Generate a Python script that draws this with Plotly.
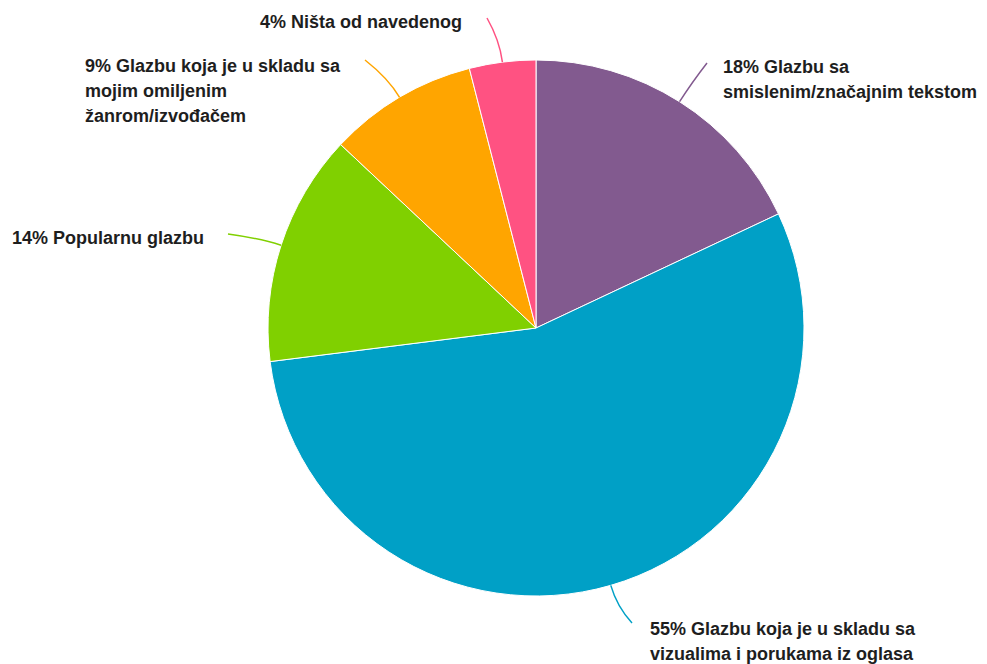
import math
import plotly.graph_objects as go

categories = [
    "Glazbu sa smislenim/značajnim tekstom",
    "Glazbu koja je u skladu sa vizualima i porukama iz oglasa",
    "Popularnu glazbu",
    "Glazbu koja je u skladu sa mojim omiljenim žanrom/izvođačem",
    "Ništa od navedenog",
]
values = [18, 55, 14, 9, 4]
label_lines = [
    ["18% Glazbu sa", "smislenim/značajnim tekstom"],
    ["55% Glazbu koja je u skladu sa", "vizualima i porukama iz oglasa"],
    ["14% Popularnu glazbu"],
    ["9% Glazbu koja je u skladu sa", "mojim omiljenim", "žanrom/izvođačem"],
    ["4% Ništa od navedenog"],
]
colors = ["#825A8F", "#00A0C6", "#80D000", "#FFA500", "#FF5282"]

W, H = 987, 664
OFF = 8  # page body margin offset
CX, CY, R = 536, 328, 268

# label layout (screen pixels): text left x, first-line center y, connector end point
label_pos = [
    (723, 67, (707, 63)),
    (650, 629, (632, 623)),
    (12, 238, (228, 234)),
    (85, 66, (365, 60)),
    (260, 22, (487, 18)),
]
LINE_H = 25

def px(x, y):
    return (x - OFF) / W, 1 - (y - OFF) / H

d0 = px(CX - R, CY + R)
d1 = px(CX + R, CY - R)
fig = go.Figure(go.Pie(
    labels=categories, values=values, sort=False, direction="clockwise",
    rotation=0, textinfo="none", hoverinfo="label+percent",
    marker=dict(colors=colors, line=dict(color="white", width=1)),
    domain=dict(x=[d0[0], d1[0]], y=[d0[1], d1[1]]),
    showlegend=False,
))

total = sum(values)
cum = 0
shapes = []
annotations = []
for v, lines, col, (lx, ly, end) in zip(values, label_lines, colors, label_pos):
    mid = (cum + v / 2) / total * 2 * math.pi
    cum += v
    sx, sy = CX + R * math.sin(mid), CY - R * math.cos(mid)
    cx, cy = CX + (R + 22) * math.sin(mid), CY - (R + 22) * math.cos(mid)
    ex, ey = end
    p0, p1, p2 = px(sx, sy), px(cx, cy), px(ex, ey)
    shapes.append(dict(
        type="path", xref="paper", yref="paper",
        path=f"M {p0[0]},{p0[1]} Q {p1[0]},{p1[1]} {p2[0]},{p2[1]}",
        line=dict(color=col, width=1.5),
    ))
    for i, t in enumerate(lines):
        ax, ay = px(lx - 2, ly + i * LINE_H)
        annotations.append(dict(
            x=ax, y=ay, xref="paper", yref="paper", text=t, showarrow=False,
            xanchor="left", yanchor="middle", align="left",
            font=dict(family="Liberation Sans", size=18, color="#1E1E1E", weight="bold"),
        ))

fig.update_layout(
    width=W, height=H, margin=dict(l=0, r=0, t=0, b=0),
    paper_bgcolor="white", plot_bgcolor="white",
    shapes=shapes, annotations=annotations,
)
fig.write_html("out.html")
